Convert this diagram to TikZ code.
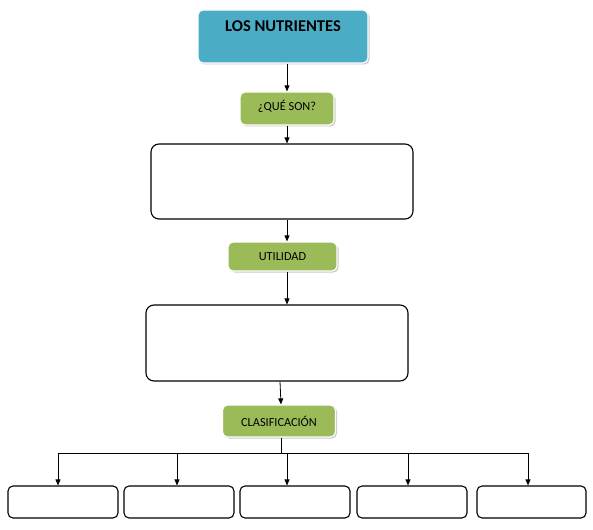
\documentclass[tikz,border=0pt]{standalone}
\usepackage{fontspec}
\setmainfont{Carlito}
\usetikzlibrary{arrows.meta,shadows}
\definecolor{nblue}{HTML}{4BACC6}
\definecolor{ngreen}{HTML}{9BBB59}
\tikzset{
  colbox/.style={draw=white,line width=1.2pt,rounded corners=5pt,inner sep=0pt,
    drop shadow={shadow xshift=1.5pt,shadow yshift=-1.5pt,fill=black!35,opacity=.6}},
  tagbox/.style={colbox,fill=ngreen,font=\fontsize{12.3}{14}\selectfont},
  emptybox/.style={draw=black,line width=1.1pt,rounded corners=8pt,inner sep=0pt},
  arr/.style={-{Triangle[length=6pt,width=5pt]},line width=0.8pt},
  ln/.style={line width=0.8pt}
}
\begin{document}
\begin{tikzpicture}[x=1pt,y=-1pt]
\useasboundingbox (0,0) rectangle (593,529);
\node[colbox,fill=nblue,minimum width=170,minimum height=53,
  font=\bfseries\fontsize{16.5}{18}\selectfont,text height=12pt,text depth=21pt] (title) at (283,36.5) {LOS NUTRIENTES};
\node[tagbox,minimum width=94,minimum height=33,text height=9pt,text depth=4pt] (que) at (287,108.5) {¿QUÉ SON?};
\node[emptybox,minimum width=262,minimum height=75] (b1) at (282,181.5) {};
\node[tagbox,minimum width=109,minimum height=29] (util) at (282.5,256.5) {UTILIDAD};
\node[emptybox,minimum width=262,minimum height=76] (b2) at (277,343) {};
\node[tagbox,minimum width=113,minimum height=32] (clas) at (279,421) {CLASIFICACIÓN};
\node[emptybox,minimum width=110,minimum height=32,rounded corners=5pt] (c1) at (63,502) {};
\node[emptybox,minimum width=110,minimum height=32,rounded corners=5pt] (c2) at (179,502) {};
\node[emptybox,minimum width=110,minimum height=32,rounded corners=5pt] (c3) at (295,502) {};
\node[emptybox,minimum width=110,minimum height=32,rounded corners=5pt] (c4) at (412,502) {};
\node[emptybox,minimum width=109,minimum height=32,rounded corners=5pt] (c5) at (531.5,502) {};
\draw[arr] (title.south -| 287,0) -- (que.north -| 287,0);
\draw[arr] (que.south -| 287,0) -- (b1.north -| 287,0);
\draw[arr] (b1.south -| 287,0) -- (util.north -| 287,0);
\draw[arr] (util.south -| 287,0) -- (b2.north -| 287,0);
\draw[arr] (b2.south -| 280,0) -- (clas.north -| 281,0);
\coordinate (j) at (281,453);
\draw[ln] (clas.south -| j) -- (j);
\draw[ln] (58,453) -- (528,453);
\draw[arr] (58,453) -- (c1.north -| 58,0);
\draw[arr] (177,453) -- (c2.north -| 177,0);
\draw[arr] (287,453) -- (c3.north -| 287,0);
\draw[arr] (408,453) -- (c4.north -| 408,0);
\draw[arr] (528,453) -- (c5.north -| 528,0);
\end{tikzpicture}
\end{document}
